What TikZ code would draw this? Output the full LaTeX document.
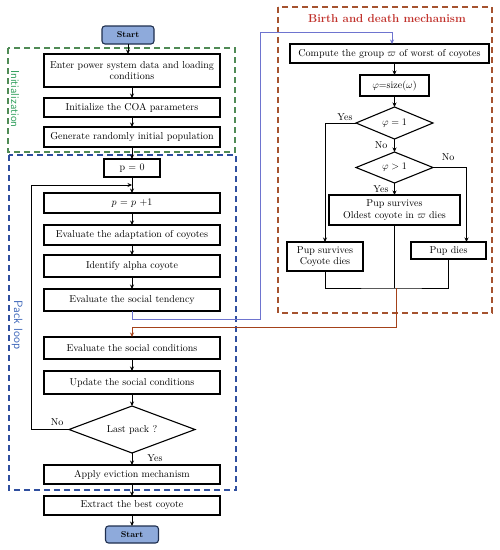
\documentclass[tikz,border=0pt]{standalone}
\usepackage{amsmath,amssymb}
\usetikzlibrary{shapes.geometric,arrows.meta,positioning}
\definecolor{startblue}{HTML}{8EAADB}
\definecolor{startedge}{HTML}{1F2F4F}
\definecolor{initgreen}{HTML}{4F8A55}
\definecolor{inittext}{HTML}{2E9E5B}
\definecolor{packblue}{HTML}{2F4F9F}
\definecolor{packtext}{HTML}{3A64B8}
\definecolor{birthred}{HTML}{A5522E}
\definecolor{titlered}{HTML}{C0302A}
\definecolor{goline}{HTML}{6E74CF}
\definecolor{backline}{HTML}{A4421A}
\tikzset{
  box/.style={rectangle, draw, line width=1.1pt, outer sep=0pt, minimum width=176pt, minimum height=20pt, align=center, font=\fontsize{10}{11.5}\selectfont, inner sep=1pt},
  term/.style={box, rounded corners=3pt, fill=startblue, draw=startedge, minimum width=52pt, minimum height=18pt, font=\fontsize{8.5}{9}\selectfont\bfseries},
  dec/.style={diamond, draw, line width=1.1pt, outer sep=0pt, inner sep=0pt, aspect=2.5, font=\fontsize{10}{11}\selectfont},
  lbl/.style={font=\fontsize{10}{11}\selectfont, inner sep=1pt},
  arr/.style={-{Stealth[length=4.5pt,width=4pt]}, line width=1pt},
  link/.style={line width=1pt},
  frame/.style={dash pattern=on 6pt off 4pt, line width=1.3pt}
}
\begin{document}
\begin{tikzpicture}[x=1pt, y=-1pt, node distance=12pt]
\useasboundingbox (0,0) rectangle (500,550);

% frames
\draw[frame, draw=initgreen] (8,48) rectangle (235,152);
\draw[frame, draw=packblue] (9,155) rectangle (236,490);
\draw[frame, draw=birthred] (278,7) rectangle (492,313);
\node[rotate=-90, text=inittext, font=\sffamily\fontsize{11.5}{12}\selectfont] (initlbl) at (15,99) {Initialization};
\node[rotate=-90, text=packtext, font=\sffamily\fontsize{12}{13}\selectfont] (packlbl) at (17,325) {Pack loop};
\node[text=titlered, font=\bfseries\fontsize{11.5}{12}\selectfont] (birthlbl) at (387,19) {Birth and death mechanism};

% main loop
\node[box, minimum height=33pt] (enter) at (132,70.5) {Enter power system data and loading\\conditions};
\node[term, above=10pt of enter, xshift=-4pt] (start) {Start};
\node[box, minimum height=19pt, below=11pt of enter] (init) {Initialize the COA parameters};
\node[box, below=10pt of init] (gen) {Generate randomly initial population};
\node[box, minimum width=56pt, minimum height=18pt, below=12pt of gen] (p0) {p = 0};
\node[box, below=16pt of p0] (pp1) {$p$ = $p$ +1};
\node[box, below=of pp1] (adapt) {Evaluate the adaptation of coyotes};
\node[box, minimum height=22pt, below=10pt of adapt] (alpha) {Identify alpha coyote};
\node[box, minimum height=22pt, below=of alpha] (tend) {Evaluate the social tendency};
\node[box, minimum height=22pt, below=26pt of tend] (soc) {Evaluate the social conditions};
\node[box, minimum height=23pt, below=of soc] (upd) {Update the social conditions};
\node[dec, minimum width=126pt, minimum height=47pt, below=of upd] (last) {Last pack ?};
\node[box, minimum height=19pt, below=of last] (apply) {Apply eviction mechanism};
\node[box, minimum height=19pt, below=of apply] (extract) {Extract the best coyote};
\node[term, minimum width=53pt, minimum height=17pt, below=11pt of extract] (stop) {Start};
\node[lbl] (nolast) at (57,422) {No};
\node[lbl] (yeslast) at (155,458) {Yes};

% birth and death
\node[box, minimum width=199pt, minimum height=19pt] (compute) at (389.5,53.5) {Compute the group $\varpi$ of worst of coyotes};
\node[box, minimum width=69pt, minimum height=21pt, below=12pt of compute, xshift=5pt] (size) {$\varphi$=size($\omega$)};
\node[dec, minimum width=77pt, minimum height=32pt, below=11pt of size] (one) {$\varphi = 1$};
\node[dec, minimum width=77pt, minimum height=31pt, below=13pt of one] (more) {$\varphi > 1$};
\node[box, minimum width=131pt, minimum height=30pt, below=of more] (oldest) {Pup survives\\Oldest coyote in $\varpi$ dies};
\node[box, minimum width=76pt, minimum height=29pt] (pscd) at (325,256.5) {Pup survives\\Coyote dies};
\node[box, minimum width=75pt, minimum height=17pt] (pdies) at (448.5,250.5) {Pup dies};
\node[lbl] (yesone) at (345,117) {Yes};
\node[lbl] (noone) at (381,145) {No};
\node[lbl] (nomore) at (448,157) {No};
\node[lbl] (yesmore) at (381,189) {Yes};
\coordinate (merge) at (396,288);
\coordinate (turnback) at (396,327.5);
\coordinate (upA) at (260,319);
\coordinate (upB) at (260,32);
\coordinate (loopL) at (31,185);

% connectors
\draw[arr] (start) -- (start |- enter.north);
\draw[arr] (enter) -- (init); \draw[arr] (init) -- (gen); \draw[arr] (gen) -- (p0);
\draw[arr] (p0) -- (pp1); \draw[arr] (pp1) -- (adapt); \draw[arr] (adapt) -- (alpha);
\draw[arr] (alpha) -- (tend); \draw[arr] (soc) -- (upd); \draw[arr] (upd) -- (last);
\draw[arr] (last) -- (apply); \draw[arr] (apply) -- (extract); \draw[arr] (extract) -- (stop);
\draw[arr] (last.west) -| (loopL) -- (loopL -| pp1);
\draw[arr, goline] (tend.south) |- (upA) -- (upB) -| ([xshift=2.5pt]compute.north);
\draw[arr] (compute.south -| size) -- (size);
\draw[arr] (size) -- (one); \draw[arr] (one) -- (more); \draw[arr] (more) -- (oldest);
\draw[arr] (one.west) -| (pscd);
\draw[arr] (more.east) -| ([xshift=18pt]pdies.north);
\draw[link] (pscd.south) |- (merge) -| (pdies.south);
\draw[link] (oldest.south) -- (oldest.south |- merge);
\draw[arr, backline] (merge) -- (turnback) -| (soc);
\end{tikzpicture}
\end{document}
